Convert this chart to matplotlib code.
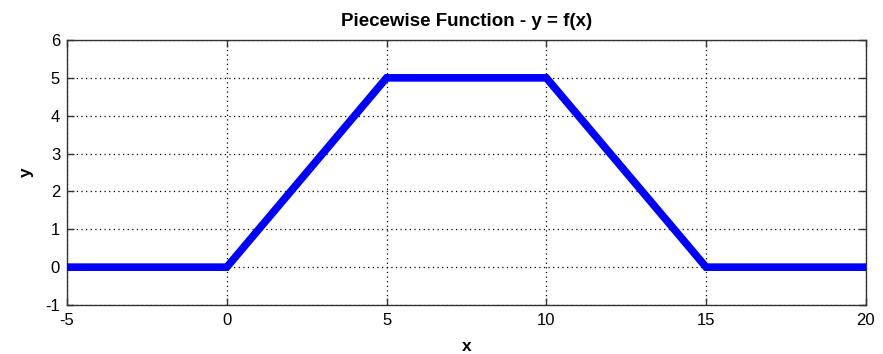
import matplotlib
matplotlib.use("Agg")
import matplotlib.pyplot as plt

# Breakpoints of the piecewise function y = f(x)
x_points = [-5, 0, 5, 10, 15, 20]
y_points = [0, 0, 5, 5, 0, 0]

x_ticks = [-5, 0, 5, 10, 15, 20]
y_ticks = [-1, 0, 1, 2, 3, 4, 5, 6]

plt.rcParams['font.family'] = ['Liberation Sans', 'DejaVu Sans']
plt.rcParams['axes.unicode_minus'] = False

fig = plt.figure(figsize=(8.83, 3.54), dpi=100)
ax = fig.add_axes([0.0759, 0.1384, 0.9047, 0.7486])

ax.plot(x_points, y_points, color='#0000ff', linewidth=5.5, solid_joinstyle='miter', zorder=3)

ax.set_xlim(-5, 20)
ax.set_ylim(-1, 6)
ax.set_xticks(x_ticks)
ax.set_yticks(y_ticks)
ax.tick_params(direction='in', length=5, width=1, labelsize=12, top=True, right=True,
               color='#333333')
ax.tick_params(axis='x', pad=6)
ax.tick_params(axis='y', pad=5)
ax.grid(True, linestyle=(0, (1, 2.7)), color='black', linewidth=0.9)
for s in ax.spines.values():
    s.set_color('#333333')
    s.set_linewidth(1)

ax.set_title('Piecewise Function - y = f(x)', fontsize=13.5, fontweight='bold', pad=10)
ax.set_xlabel('x', fontsize=12.5, fontweight='bold', labelpad=8)
ax.set_ylabel('y', fontsize=12.5, fontweight='bold', labelpad=8)

fig.savefig('out.png', dpi=100)
